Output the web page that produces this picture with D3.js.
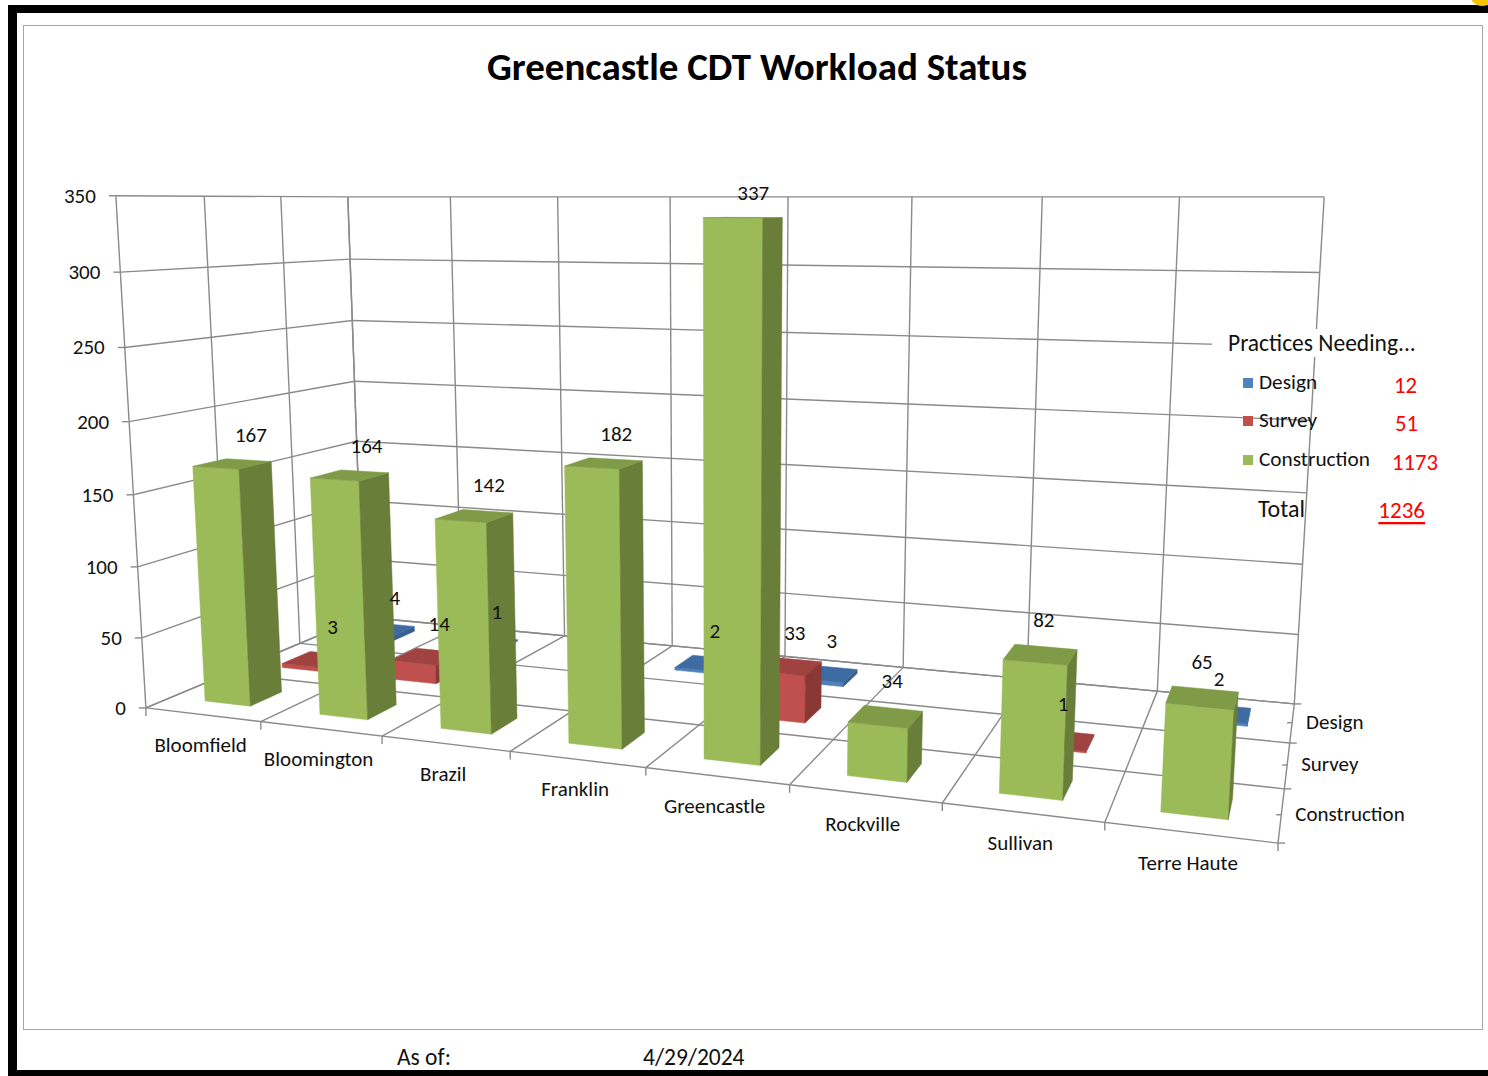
<!DOCTYPE html>
<html><head><meta charset="utf-8">
<script src="https://cdn.jsdelivr.net/npm/d3@7"></script>
<style>body{margin:0;background:#fff}svg{display:block}</style>
</head><body>
<svg id="c" width="1488" height="1076"></svg>
<script>
// ---------------- DATA ----------------
const categories = ["Bloomfield","Bloomington","Brazil","Franklin","Greencastle","Rockville","Sullivan","Terre Haute"];
const seriesNames = ["Construction","Survey","Design"];          // front row -> back row
const construction = [167,164,142,182,337,34,82,65];
const survey       = [3,14,null,null,33,null,1,null];
const design       = [4,1,null,2,3,null,null,2];
const valueTicks   = [0,50,100,150,200,250,300,350];
const titleText  = "Greencastle CDT Workload Status";
const legendTitle = "Practices Needing...";
const totalLabel = "Total";
const asOfLabel = "As of:";
const asOfDate  = "4/29/2024";

// ---------------- LAYOUT ----------------
const FONT = "Carlito, Lato, 'Open Sans', sans-serif";
const colors = {
  Construction:{front:"#9BBB59", side:"#687E39", top:"#7F9B47"},
  Survey:      {front:"#C0504D", side:"#8A3836", top:"#A04340"},
  Design:      {front:"#4F81BD", side:"#385F8E", top:"#3F6BA3"}
};
// screen anchors of the 3D plot box (world: x categories 0..8, y value, z rows 0..3)
const anchors = [
  [[0,350,0],[115.7,196]], [[0,0,0],[146.5,707]],
  [[0,100,0],[138,566]], [[0,200,0],[129.3,421]], [[0,300,0],[120.2,271]],
  [[0,350,1],[205,196.5]], [[0,350,2],[280,197]], [[0,350,3],[346.7,197.5]],
  [[4,350,3],[790,197]], [[8,350,3],[1323.5,196.5]], [[8,0,3],[1294.5,703]],
  [[8,0,0],[1278,843]], [[4,0,0],[645,770]], [[2,0,0],[382,737]], [[6,0,0],[942,803]]
];

function fitCamera(pts){
  const rows=[], rhs=[];
  for (const [[X,Y,Z],[u,v]] of pts){
    const x=X, y=Y/100, z=Z, U=(u-700)/500, V=(v-500)/500;
    rows.push([x,y,z,1,0,0,0,0,-U*x,-U*y,-U*z]); rhs.push(U);
    rows.push([0,0,0,0,x,y,z,1,-V*x,-V*y,-V*z]); rhs.push(V);
  }
  const n=11, M=Array.from({length:n},()=>new Array(n+1).fill(0));
  rows.forEach((r,k)=>{for(let i=0;i<n;i++){for(let j=0;j<n;j++)M[i][j]+=r[i]*r[j];M[i][n]+=r[i]*rhs[k];}});
  for(let c=0;c<n;c++){
    let p=c; for(let r=c+1;r<n;r++) if(Math.abs(M[r][c])>Math.abs(M[p][c])) p=r;
    [M[c],M[p]]=[M[p],M[c]];
    for(let r=0;r<n;r++){ if(r===c) continue; const f=M[r][c]/M[c][c]; for(let j=c;j<=n;j++) M[r][j]-=f*M[c][j]; }
  }
  return M.map((r,i)=>r[n]/r[i]);
}
const P = fitCamera(anchors);
function proj(X,Y,Z){
  const x=X,y=Y/100,z=Z, w=P[8]*x+P[9]*y+P[10]*z+1;
  return [ (P[0]*x+P[1]*y+P[2]*z+P[3])/w*500+700, (P[4]*x+P[5]*y+P[6]*z+P[7])/w*500+500, w ];
}
const farSign = Math.sign(proj(0,0,3)[2]-proj(0,0,0)[2]);

// world scales
const xW = d3.scaleBand().domain(categories).range([0,8]).paddingInner(0.6).paddingOuter(0.3);
const zW = d3.scaleBand().domain(seriesNames).range([0,3]).paddingInner(0.6).paddingOuter(0.3);
const yW = d3.scaleLinear().domain([0,350]).range([0,350]);
const xEdges = d3.range(categories.length+1).map(i=>i*xW.step());
const zEdges = d3.range(seriesNames.length+1).map(i=>i*zW.step());
const X0=0, X1=xEdges[xEdges.length-1], Z0=0, Z1=zEdges[zEdges.length-1], Ymax=yW(350);

const svg = d3.select("#c");
const line = d3.line();
function seg(g,a,b,o={}){ g.append("path").attr("d",line([a,b])).attr("stroke",o.stroke||"#8a8a8a").attr("stroke-width",o.w||1.4).attr("fill","none"); }
function txt(g,x,y,str,o={}){
  const t=g.append("text").attr("transform",`translate(${x},${y}) scale(${o.sx??1},1)`)
    .attr("text-anchor",o.anchor||"start").attr("dominant-baseline","central")
    .attr("font-family",FONT).attr("font-size",o.size||21).attr("font-weight",o.weight||400)
    .attr("fill",o.fill||"#111").text(str);
  if(o.underline) t.attr("text-decoration","underline");
  if(o.len) t.attr("textLength",o.len).attr("lengthAdjust","spacingAndGlyphs");
  return t;
}

// frame
svg.append("rect").attr("x",23.5).attr("y",25.5).attr("width",1459).attr("height",1004).attr("fill","#fff").attr("stroke","#a6a6a6").attr("stroke-width",1);
svg.append("rect").attr("x",8).attr("y",5).attr("width",1480).attr("height",8).attr("fill","#000");
svg.append("rect").attr("x",8).attr("y",5).attr("width",9).attr("height",1071).attr("fill","#000");
svg.append("rect").attr("x",8).attr("y",1070).attr("width",1480).attr("height",6).attr("fill","#000");
svg.append("circle").attr("cx",1482).attr("cy",-6).attr("r",12).attr("fill","#f5c400");

// title
txt(svg,757,67,titleText,{size:38,weight:700,anchor:"middle",len:540,fill:"#000"});

// gridlines
const grid = svg.append("g");
valueTicks.forEach(v=>{ const y=yW(v);
  seg(grid,proj(X0,y,Z1),proj(X1,y,Z1));      // back wall
  seg(grid,proj(X0,y,Z0),proj(X0,y,Z1));      // side wall
});
xEdges.forEach(x=>{ seg(grid,proj(x,0,Z1),proj(x,Ymax,Z1)); seg(grid,proj(x,0,Z0),proj(x,0,Z1)); });
zEdges.forEach(z=>{ seg(grid,proj(X0,0,z),proj(X0,Ymax,z)); seg(grid,proj(X0,0,z),proj(X1,0,z)); });

// axes ticks + labels
const ax = svg.append("g");
valueTicks.forEach(v=>{ const p=proj(X0,yW(v),Z0);
  seg(ax,[p[0]-7,p[1]],p);
  txt(ax,p[0]-20,p[1],String(v),{anchor:"end"});
});
xEdges.forEach(x=>{ const p=proj(x,0,Z0); seg(ax,p,[p[0],p[1]+8]); });
categories.forEach(c=>{ const p=proj(xW(c)+xW.bandwidth()/2,0,Z0); txt(ax,p[0]-2,p[1]+30,c,{anchor:"middle"}); });
zEdges.forEach(z=>{ const p=proj(X1,0,z); seg(ax,p,[p[0]+7,p[1]]); });
seriesNames.forEach(s=>{ const p=proj(X1,0,zW(s)+zW.bandwidth()/2); seg(ax,[p[0]-5,p[1]],p); txt(ax,p[0]+14,p[1]-1,s); });

// bars
const seriesVals = {Construction:construction, Survey:survey, Design:design};
const bars=[];
seriesNames.forEach(s=>categories.forEach((c,i)=>{ const v=seriesVals[s][i]; if(v==null) return;
  const x0=xW(c),x1=x0+xW.bandwidth(),z0=zW(s),z1=z0+zW.bandwidth(),h=yW(v);
  bars.push({s,c,v,x0,x1,z0,z1,h,depth:farSign*proj((x0+x1)/2,h/2,(z0+z1)/2)[2]});
}));
bars.sort((a,b)=>b.depth-a.depth);
function area(pts){ let a=0; for(let i=0;i<pts.length;i++){const p=pts[i],q=pts[(i+1)%pts.length]; a+=p[0]*q[1]-q[0]*p[1];} return a; }
const barG = svg.append("g");
bars.forEach(b=>{
  const {x0,x1,z0,z1,h}=b, col=colors[b.s];
  const faces=[
    {k:"front", v:[[x0,0,z0],[x0,h,z0],[x1,h,z0],[x1,0,z0]]},
    {k:"side",  v:[[x0,0,z1],[x1,0,z1],[x1,h,z1],[x0,h,z1]]},
    {k:"side",  v:[[x1,0,z0],[x1,h,z0],[x1,h,z1],[x1,0,z1]]},
    {k:"side",  v:[[x0,0,z0],[x0,0,z1],[x0,h,z1],[x0,h,z0]]},
    {k:"top",   v:[[x0,h,z0],[x0,h,z1],[x1,h,z1],[x1,h,z0]]},
    {k:"top",   v:[[x0,0,z0],[x1,0,z0],[x1,0,z1],[x0,0,z1]]}
  ];
  const ref=Math.sign(area(faces[0].v.map(p=>proj(...p))));
  const g=barG.append("g");
  faces.forEach(f=>{ const pts=f.v.map(p=>proj(...p).slice(0,2));
    if(Math.sign(area(pts))!==ref) return;
    g.append("path").attr("d",line(pts)+"Z").attr("fill",col[f.k]).attr("stroke",col[f.k]).attr("stroke-width",0.5).attr("stroke-linejoin","round");
  });
});
// data labels
const labG = svg.append("g");
bars.forEach(b=>{ const p=proj((b.x0+b.x1)/2,b.h,b.z1+0.08); txt(labG,p[0]-4,p[1]-24,String(b.v),{anchor:"middle"}); });

// legend
const lg = svg.append("g");
lg.append("rect").attr("x",1212).attr("y",329).attr("width",210).attr("height",28).attr("fill","#fff");
txt(lg,1228,343,legendTitle,{size:23.5});
const legendRows = [["Design",design,382,1417],["Survey",survey,420,1418],["Construction",construction,459,1438]];
legendRows.forEach(([name,arr,y,rx])=>{
  lg.append("rect").attr("x",1243).attr("y",y-4).attr("width",10).attr("height",10).attr("fill",colors[name].front);
  txt(lg,1259,y,name,{size:21.3});
  txt(lg,rx,y+3,String(d3.sum(arr)),{size:22.7,anchor:"end",fill:"#ff0000"});
});
txt(lg,1258,508,totalLabel,{size:24});
txt(lg,1425,510,String(d3.sum(construction)+d3.sum(survey)+d3.sum(design)),{size:23,anchor:"end",fill:"#ff0000",underline:true});

// footer
txt(svg,397,1057,asOfLabel,{size:23.5});
txt(svg,643,1057,asOfDate,{size:23.5});
</script>
</body></html>
